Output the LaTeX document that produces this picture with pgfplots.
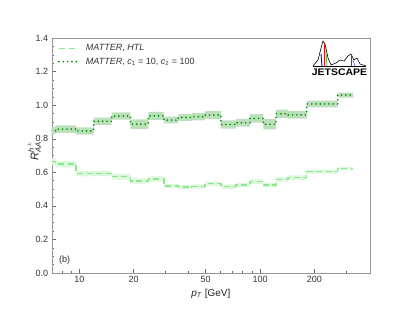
\documentclass[border=0pt]{standalone}
\usepackage{fontspec}
\setmainfont{Liberation Sans}
\usepackage{amsmath}
\usepackage{pgfplots}
\pgfplotsset{compat=1.18}
\usepgfplotslibrary{fillbetween}
\usepackage{pgfplotstable}

\definecolor{dkline}{RGB}{0,145,0}
\definecolor{dkband}{RGB}{188,224,188}
\definecolor{ltline}{RGB}{140,232,140}
\definecolor{ltband}{RGB}{222,248,222}
\definecolor{frame}{RGB}{150,150,150}

\pgfplotstableread{
x y lo hi
7.0 0.848 0.826 0.870
7.4 0.857 0.835 0.879
9.6 0.846 0.824 0.868
12.0 0.904 0.882 0.926
15.1 0.935 0.913 0.957
19.2 0.887 0.859 0.915
24.1 0.936 0.912 0.960
29.4 0.911 0.891 0.931
35.3 0.927 0.907 0.947
41.9 0.931 0.909 0.953
49.6 0.941 0.917 0.965
60.8 0.885 0.860 0.910
73.6 0.895 0.872 0.918
88.0 0.921 0.896 0.946
104.3 0.886 0.856 0.916
122.6 0.949 0.924 0.974
142.5 0.942 0.920 0.964
181.0 1.007 0.987 1.027
269.0 1.060 1.045 1.075
328.0 1.060 1.045 1.075
}\darktab

\pgfplotstableread{
x y lo hi
7.0 0.663 0.643 0.683
7.4 0.648 0.630 0.666
9.6 0.592 0.576 0.608
12.0 0.593 0.577 0.609
15.1 0.574 0.556 0.592
19.2 0.548 0.532 0.564
24.1 0.560 0.545 0.575
29.4 0.518 0.505 0.531
35.3 0.511 0.498 0.524
41.9 0.515 0.502 0.528
49.6 0.532 0.519 0.545
60.8 0.514 0.500 0.528
73.6 0.524 0.511 0.537
88.0 0.544 0.530 0.558
104.3 0.524 0.510 0.538
122.6 0.558 0.545 0.571
142.5 0.568 0.555 0.581
181.0 0.604 0.592 0.616
269.0 0.622 0.612 0.632
328.0 0.622 0.612 0.632
}\lighttab

\begin{document}
\begin{tikzpicture}
\begin{axis}[
  scale only axis, width=318.3pt, height=235pt,
  xmode=log, xmin=7.04, xmax=406, ymin=0, ymax=1.4,
  xtick={10,20,50,100,200}, xticklabels={10,20,50,100,200},
  minor xtick={8,9,30,40,60,70,80,90,300},
  ytick={0,0.2,0.4,0.6,0.8,1.0,1.2,1.4},
  minor y tick num=3,
  yticklabel style={/pgf/number format/.cd,fixed,fixed zerofill,precision=1},
  /pgf/number format/assume math mode=true,
  tick pos=left, tick align=inside,
  axis line style={frame},
  every tick/.style={frame!70!black},
  major tick length=4pt, minor tick length=2pt,
  ticklabel style={font=\fontsize{9}{10}\selectfont, text=black!80},
  xlabel={\textit{p}\textsubscript{\textit{T}} [GeV]},
  xlabel style={font=\fontsize{10}{11}\selectfont, text=black!85, yshift=1pt},
  ylabel={$\textit{R}_{\textit{AA}}^{\textit{h}^{\pm}}$},
  ylabel style={font=\fontsize{11}{12}\selectfont, text=black!85, at={(axis description cs:-0.055,0.52)}, anchor=center},
  legend style={at={(rel axis cs:0.01,0.99)}, anchor=north west, draw=none, fill=none,
    font=\fontsize{9}{10}\selectfont, row sep=1.5pt, text=black!80,
    /tikz/every odd column/.append style={column sep=6pt}},
  legend cell align=left,
  legend image code/.code={\draw[#1] (0pt,0pt) -- (18pt,0pt);},
]
% bands
\addplot[name path=lu, draw=none, const plot, forget plot] table[x=x,y=hi] {\lighttab};
\addplot[name path=ll, draw=none, const plot, forget plot] table[x=x,y=lo] {\lighttab};
\addplot[ltband, forget plot] fill between[of=lu and ll];
\addplot[name path=du, draw=none, const plot, forget plot] table[x=x,y=hi] {\darktab};
\addplot[name path=dl, draw=none, const plot, forget plot] table[x=x,y=lo] {\darktab};
\addplot[dkband, forget plot] fill between[of=du and dl];
% lines
\addplot[ltline, line width=1.5pt, dash pattern=on 6pt off 3.5pt, const plot] table[x=x,y=y] {\lighttab};
\addlegendentry{\textit{MATTER},\ \textit{HTL}}
\addplot[dkline, line width=1.9pt, line cap=round, dash pattern=on 0pt off 4.3pt, const plot] table[x=x,y=y] {\darktab};
\addlegendentry{\textit{MATTER},\ \textit{c}\textsubscript{1} = 10, \textit{c}\textsubscript{2} = 100}
% panel label
\node[anchor=west, font=\fontsize{9}{10}\selectfont, text=black!85] at (rel axis cs:0.012,0.055) {(b)};
\end{axis}
% logo
\begin{scope}[shift={(current axis.south west)}, xshift=261.3pt, yshift=207pt, x=1pt, y=1pt]
  \draw[black, line width=0.6pt, line join=round] (0,0) -- (5,6) -- (8,18) -- (10,25) -- (12,22) -- (15,8) -- (18,1) -- (23,3) -- (27,6) -- (31,5) -- (35,10) -- (38,12) -- (41,6) -- (44,8) -- (47,2) -- (53,0);
  \draw[black, line width=0.6pt] (0,0) -- (53,0);
  \draw[red, line width=1pt] (11,22) -- (11,0);
  \draw[blue, line width=0.9pt] (8,12) -- (9,0);
  \draw[green!60!black, line width=0.5pt] (13,14) -- (14,0);
  \draw[red, line width=0.7pt] (38,11) -- (38,0);
  \draw[blue!60, line width=0.7pt] (40,6) -- (42,0);
  \node[font=\fontsize{9.5}{10}\bfseries, inner sep=0pt, xscale=1.1] at (26.5,-6) {JETSCAPE};
\end{scope}
\pgfresetboundingbox
\path[use as bounding box] (current axis.south west) ++(-51.7pt,-35pt) rectangle ++(411pt,308pt);
\end{tikzpicture}
\end{document}
